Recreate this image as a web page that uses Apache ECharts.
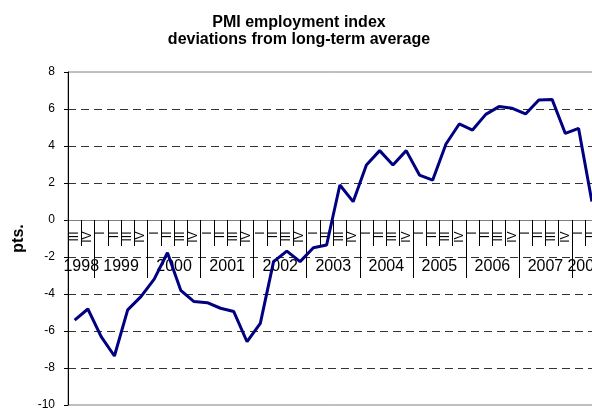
<!DOCTYPE html>
<html><head><meta charset="utf-8">
<script src="https://cdn.jsdelivr.net/npm/echarts@6/dist/echarts.min.js"></script>
<style>html,body{margin:0;padding:0;background:#fff}#c{width:592px;height:410px}</style>
</head><body><div id="c"></div>
<script>
const chartTitle = 'PMI employment index\ndeviations from long-term average';
const yAxisName = 'pts.';
const yearOfPeriod = [
  '1998','1998',
  '1999','1999','1999','1999',
  '2000','2000','2000','2000',
  '2001','2001','2001','2001',
  '2002','2002','2002','2002',
  '2003','2003','2003','2003',
  '2004','2004','2004','2004',
  '2005','2005','2005','2005',
  '2006','2006','2006','2006',
  '2007','2007','2007','2007',
  '2008','2008'
];
const quarterOfPeriod = [
  'III','IV',
  'I','II','III','IV',
  'I','II','III','IV',
  'I','II','III','IV',
  'I','II','III','IV',
  'I','II','III','IV',
  'I','II','III','IV',
  'I','II','III','IV',
  'I','II','III','IV',
  'I','II','III','IV',
  'I','II'
];
const pmiDeviation = [
  -5.41, -4.81,
  -6.3, -7.35, -4.86, -4.14,
  -3.2, -1.77, -3.8, -4.41,
  -4.47, -4.77, -4.95, -6.58,
  -5.59, -2.25, -1.68, -2.25,
  -1.5, -1.35, 1.89, 0.99,
  2.97, 3.75, 2.97, 3.75,
  2.43, 2.16, 4.11, 5.19,
  4.86, 5.71, 6.13, 6.04,
  5.73, 6.49, 6.52, 4.68,
  4.95, 1.0
];
const yMin = -10, yMax = 8, yStep = 2;

const periods = yearOfPeriod.map((y, i) => y + ' ' + quarterOfPeriod[i]);

// year groups: label at group centre, separator tick at group start
const yearLabelIdx = new Set();
const yearStartIdx = new Set();
let s = 0;
for (let i = 1; i <= yearOfPeriod.length; i++) {
  if (i === yearOfPeriod.length || yearOfPeriod[i] !== yearOfPeriod[s]) {
    const n = i - s;
    yearLabelIdx.add(s + Math.floor(n / 2) - 1);
    if (s > 0) yearStartIdx.add(s);
    s = i;
  }
}

const W = 592, H = 410;
const gridLeft = 68, gridRight = -6.5, gridTop = 72, gridBottom = 5;
const band = (W - gridLeft - gridRight) / periods.length;
const plotH = H - gridTop - gridBottom;
const zeroOffset = -plotH * (0 - yMin) / (yMax - yMin); // move category axes up to value 0
const font = 'Liberation Sans, Arial, sans-serif';

const chart = echarts.init(document.getElementById('c'), null, {renderer: 'canvas'});
chart.setOption({
  animation: false,
  backgroundColor: '#fff',
  textStyle: {fontFamily: font},
  title: {
    text: chartTitle,
    left: 299, top: 14, textAlign: 'center', padding: 0,
    textStyle: {fontSize: 16, fontWeight: 'bold', lineHeight: 17, color: '#000', fontFamily: font}
  },
  grid: {
    left: gridLeft, right: gridRight, top: gridTop, bottom: gridBottom,
    show: true, borderColor: '#808080', borderWidth: 1,
    outerBoundsMode: 'none', containLabel: false
  },
  xAxis: [{
    type: 'category', data: periods, position: 'bottom', offset: zeroOffset, z: 1,
    boundaryGap: true,
    axisLine: {show: true, onZero: false, lineStyle: {color: '#808080', width: 1}},
    axisTick: {show: true, interval: 0, length: 26, lineStyle: {color: '#000', width: 1}},
    axisLabel: {
      show: true, interval: 0, rotate: 90, margin: 11.5, fontSize: 12, color: '#000', fontFamily: font,
      formatter: function (v, i) { return quarterOfPeriod[i]; }
    },
    splitLine: {show: false}
  }, {
    type: 'category', data: periods, position: 'bottom', offset: zeroOffset, z: 1,
    boundaryGap: true,
    axisLine: {show: false, onZero: false},
    axisTick: {show: true, length: 58, interval: function (i) { return yearStartIdx.has(i); }, lineStyle: {color: '#000', width: 1}},
    axisLabel: {
      show: true, interval: function (i) { return yearLabelIdx.has(i); }, margin: 39, fontSize: 16, color: '#000', fontFamily: font,
      padding: [0, 0, 0, band],
      formatter: function (v, i) { return yearOfPeriod[i]; }
    },
    splitLine: {show: false}
  }],
  yAxis: [{
    type: 'value', min: yMin, max: yMax, interval: yStep,
    name: yAxisName, nameLocation: 'middle', nameGap: 36, nameRotate: 90,
    nameTextStyle: {fontSize: 16, fontWeight: 'bold', color: '#000', fontFamily: font},
    axisLine: {show: true, onZero: false, lineStyle: {color: '#000', width: 1}},
    axisTick: {show: true, inside: false, length: 4, lineStyle: {color: '#000'}},
    axisLabel: {margin: 13, fontSize: 12, color: '#000', fontFamily: font},
    splitLine: {show: true, showMinLine: false, showMaxLine: false, lineStyle: {color: '#333', width: 1, type: [8, 5]}}
  }],
  series: [{
    type: 'line', data: pmiDeviation, xAxisIndex: 0, yAxisIndex: 0,
    symbol: 'none', z: 3,
    lineStyle: {color: '#000080', width: 3}
  }]
});
</script></body></html>
